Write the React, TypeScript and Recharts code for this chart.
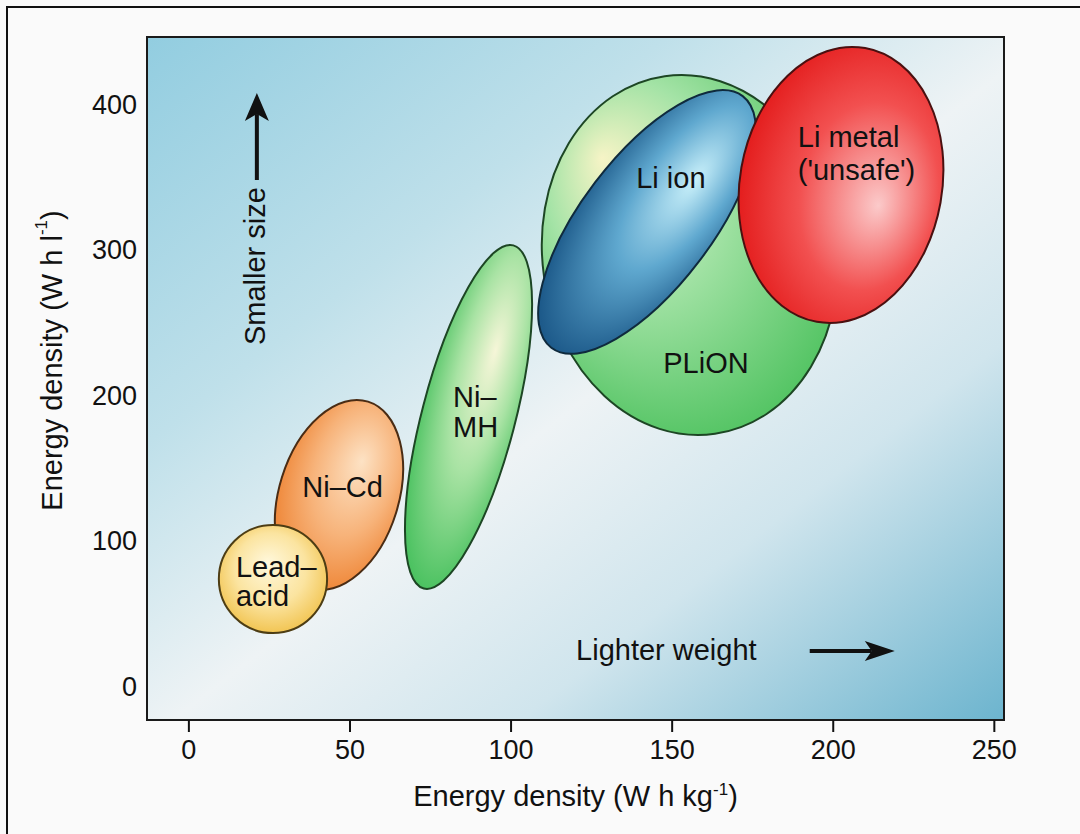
import React from "react";
import { ScatterChart, Scatter, XAxis, YAxis, ReferenceArea } from "recharts";

const FONT = '"Liberation Sans", Arial, Helvetica, sans-serif';

// ---------- data ----------
const xTicks = [0, 50, 100, 150, 200, 250];
const yTicks = [0, 100, 200, 300, 400];
const xDomain: [number, number] = [-13, 253];
const yDomain: [number, number] = [-23, 446];

// each region: centre, end of long semi-axis, end of short semi-axis
// x = gravimetric energy density (W h/kg), y = volumetric energy density (W h/l)
const niCd = [
  { x: 46.6, y: 131.5 },
  { x: 55.6, y: 195.6 },
  { x: 64.3, y: 119.2 },
];
const leadAcid = [
  { x: 26.1, y: 73.8 },
  { x: 26.1, y: 110.9 },
  { x: 42.9, y: 73.8 },
];
const niMH = [
  { x: 86.8, y: 185.1 },
  { x: 100.7, y: 302.9 },
  { x: 100.8, y: 177.0 },
];
const plion = [
  { x: 155.5, y: 296.3 },
  { x: 147.7, y: 419.1 },
  { x: 200.8, y: 310.4 },
];
const liIon = [
  { x: 142.2, y: 319.0 },
  { x: 171.9, y: 405.4 },
  { x: 158.3, y: 291.8 },
];
const liMetal = [
  { x: 202.4, y: 344.4 },
  { x: 209.9, y: 438.4 },
  { x: 233.3, y: 332.3 },
];

const regionLabels = [
  { name: "Lead-acid", lines: ["Lead–", "acid"], x: 14.6, y: 72.4 },
  { name: "Ni-Cd", lines: ["Ni–Cd"], x: 47.7, y: 137.0 },
  { name: "Ni-MH", lines: ["Ni–", "MH"], x: 82.0, y: 188.5 },
  { name: "Li ion", lines: ["Li ion"], x: 149.6, y: 349.2 },
  { name: "Li metal", lines: ["Li metal", "('unsafe')"], x: 189.0, y: 366.0 },
  { name: "PLiON", lines: ["PLiON"], x: 160.5, y: 222.1 },
];

const sizeArrow = [
  { x: 21.1, y: 347.8 },
  { x: 21.1, y: 407.5 },
];
const weightArrow = [
  { x: 192.7, y: 24.4 },
  { x: 219.1, y: 24.4 },
];
const sizeNote = [{ text: "Smaller size", x: 20.5, y: 288.7 }];
const weightNote = [{ text: "Lighter weight", x: 148.2, y: 25.1 }];

// ---------- styles ----------
const LEFT_ALIGNED = new Set(["Lead-acid", "Ni-MH", "Li metal"]);
const LINE_H: Record<string, number> = { "Lead-acid": 29, "Ni-MH": 30, "Li metal": 33 };
const TEXT_COLOR = "#111";

const Nothing = () => <g />;

const makeEllipse = (grad: string, stroke: string) => (props: any) => {
  const pts = props.points;
  if (!pts || pts.length < 3) return <g />;
  const [c, a, b] = pts;
  const ax = a.x - c.x;
  const ay = a.y - c.y;
  const ra = Math.hypot(ax, ay);
  const rb = Math.hypot(b.x - c.x, b.y - c.y);
  const ang = (Math.atan2(ax, -ay) * 180) / Math.PI;
  return (
    <ellipse
      cx={c.x}
      cy={c.y}
      rx={rb}
      ry={ra}
      transform={`rotate(${ang} ${c.x} ${c.y})`}
      fill={`url(#${grad})`}
      stroke={stroke}
      strokeWidth={2}
    />
  );
};

const arrowLine = (head: number, halfW: number) => (props: any) => {
  const pts = props.points;
  if (!pts || pts.length < 2) return <g />;
  const [p0, p1] = pts;
  const dx = p1.x - p0.x;
  const dy = p1.y - p0.y;
  const L = Math.hypot(dx, dy) || 1;
  const ux = dx / L;
  const uy = dy / L;
  const bx = p1.x - ux * head;
  const by = p1.y - uy * head;
  const nx = bx + ux * 7;
  const ny = by + uy * 7;
  return (
    <g>
      <line x1={p0.x} y1={p0.y} x2={nx} y2={ny} stroke="#111" strokeWidth={4} />
      <polygon
        points={`${p1.x},${p1.y} ${bx - uy * halfW},${by + ux * halfW} ${nx},${ny} ${bx + uy * halfW},${by - ux * halfW}`}
        fill="#111"
      />
    </g>
  );
};

const RegionText = (props: any) => {
  const { cx, cy, payload } = props;
  if (cx == null || cy == null || !payload) return <g />;
  const lines: string[] = payload.lines;
  const anchor = LEFT_ALIGNED.has(payload.name) ? "start" : "middle";
  const lh = LINE_H[payload.name] ?? 30;
  const first = cy - ((lines.length - 1) * lh) / 2;
  return (
    <text
      textAnchor={anchor}
      dominantBaseline="central"
      fontFamily={FONT}
      fontSize={29}
      fill={TEXT_COLOR}
    >
      {lines.map((l, i) => (
        <tspan key={i} x={cx} y={first + i * lh}>
          {l}
        </tspan>
      ))}
    </text>
  );
};

const NoteText = (rotate: boolean) => (props: any) => {
  const { cx, cy, payload } = props;
  if (cx == null || cy == null || !payload) return <g />;
  return (
    <text
      x={cx}
      y={cy}
      textAnchor="middle"
      dominantBaseline="central"
      fontFamily={FONT}
      fontSize={29}
      fill={TEXT_COLOR}
      transform={rotate ? `rotate(-90 ${cx} ${cy})` : undefined}
    >
      {payload.text}
    </text>
  );
};

const XTitle = (props: any) => {
  const vb = props.viewBox || { x: 147, y: 720, width: 857, height: 114 };
  const cx = vb.x + vb.width / 2;
  const y = vb.y + 86;
  return (
    <text x={cx} y={y} textAnchor="middle" fontFamily={FONT} fontSize={29} fill={TEXT_COLOR}>
      Energy density (W h kg
      <tspan dy={-11} fontSize={17}>
        -1
      </tspan>
      <tspan dy={11}>)</tspan>
    </text>
  );
};

const YTitle = (props: any) => {
  const vb = props.viewBox || { x: 0, y: 37, width: 147, height: 683 };
  const cx = vb.x + 52;
  const cy = vb.y + vb.height / 2 - 18;
  return (
    <text
      x={cx}
      y={cy}
      textAnchor="middle"
      dominantBaseline="central"
      fontFamily={FONT}
      fontSize={29}
      fill={TEXT_COLOR}
      transform={`rotate(-90 ${cx} ${cy})`}
    >
      Energy density (W h l
      <tspan dy={-11} fontSize={17}>
        -1
      </tspan>
      <tspan dy={11}>)</tspan>
    </text>
  );
};

const Defs = () => (
  <svg width={0} height={0} style={{ position: "absolute" }}>
    <defs>
      <linearGradient id="bg" gradientUnits="userSpaceOnUse" x1={147} y1={37} x2={803} y2={878}>
        <stop offset="0" stopColor="#92cde0" />
        <stop offset="0.3" stopColor="#bfe0ea" />
        <stop offset="0.52" stopColor="#eef3f5" />
        <stop offset="0.72" stopColor="#d0e5ed" />
        <stop offset="1" stopColor="#6cb4ce" />
      </linearGradient>
      <radialGradient id="gLead" cx="0.5" cy="0.45" r="0.6" fx="0.45" fy="0.35">
        <stop offset="0" stopColor="#fff8dc" />
        <stop offset="0.55" stopColor="#fbe4a0" />
        <stop offset="1" stopColor="#f0bf45" />
      </radialGradient>
      <radialGradient id="gNiCd" cx="0.55" cy="0.4" r="0.62" fx="0.6" fy="0.3">
        <stop offset="0" stopColor="#fde2c4" />
        <stop offset="0.55" stopColor="#f7b37a" />
        <stop offset="1" stopColor="#ee8434" />
      </radialGradient>
      <radialGradient id="gNiMH" cx="0.55" cy="0.38" r="0.62" fx="0.6" fy="0.3">
        <stop offset="0" stopColor="#f6f6d8" />
        <stop offset="0.5" stopColor="#a9e3a4" />
        <stop offset="1" stopColor="#4cc261" />
      </radialGradient>
      <radialGradient id="gPlion" cx="0.45" cy="0.4" r="0.65" fx="0.25" fy="0.2">
        <stop offset="0" stopColor="#f6f4c6" />
        <stop offset="0.45" stopColor="#a4e3a6" />
        <stop offset="1" stopColor="#4ec25f" />
      </radialGradient>
      <radialGradient id="gLiIon" cx="0.55" cy="0.38" r="0.62" fx="0.6" fy="0.3">
        <stop offset="0" stopColor="#c9f0fa" />
        <stop offset="0.5" stopColor="#5fa8cf" />
        <stop offset="1" stopColor="#1d5a8a" />
      </radialGradient>
      <radialGradient id="gLiMetal" cx="0.6" cy="0.5" r="0.62" fx="0.7" fy="0.55">
        <stop offset="0" stopColor="#fbcaca" />
        <stop offset="0.55" stopColor="#f25050" />
        <stop offset="1" stopColor="#e31a1a" />
      </radialGradient>
    </defs>
  </svg>
);

export default function App() {
  return (
    <div
      style={{
        position: "relative",
        width: 1080,
        height: 834,
        overflow: "hidden",
        background: "#fafafa",
      }}
    >
      <style>{`body{margin:0;background:#fafafa;}`}</style>
      <Defs />
      <div
        style={{
          position: "absolute",
          left: 6,
          top: 6,
          width: 1200,
          height: 1000,
          border: "2px solid #111",
          boxSizing: "border-box",
        }}
      />
      <div style={{ position: "absolute", left: 0, top: 0 }}>
        <ScatterChart width={1080} height={834} margin={{ top: 37, right: 76, bottom: 0, left: 0 }}>
          <XAxis
            type="number"
            dataKey="x"
            domain={xDomain}
            ticks={xTicks}
            allowDataOverflow
            axisLine={false}
            tickSize={12}
            tickMargin={8}
            tickLine={{ stroke: "#111", strokeWidth: 2 }}
            tick={{ fill: TEXT_COLOR, fontSize: 27, fontFamily: FONT }}
            height={114}
            label={{ content: XTitle }}
          />
          <YAxis
            type="number"
            dataKey="y"
            domain={yDomain}
            ticks={yTicks}
            allowDataOverflow
            axisLine={false}
            tickLine={false}
            tickSize={0}
            tickMargin={10}
            tick={{ fill: TEXT_COLOR, fontSize: 27, fontFamily: FONT }}
            width={147}
            label={{ content: YTitle }}
          />
          <ReferenceArea
            x1={xDomain[0]}
            x2={xDomain[1]}
            y1={yDomain[0]}
            y2={yDomain[1]}
            fill="url(#bg)"
            fillOpacity={1}
            stroke="#1a1a1a"
            strokeWidth={2}
            ifOverflow="visible"
          />
          <Scatter data={niCd} isAnimationActive={false} shape={Nothing} line={makeEllipse("gNiCd", "#4a2c14")} lineType="joint" legendType="none" />
          <Scatter data={leadAcid} isAnimationActive={false} shape={Nothing} line={makeEllipse("gLead", "#4d3d14")} lineType="joint" legendType="none" />
          <Scatter data={niMH} isAnimationActive={false} shape={Nothing} line={makeEllipse("gNiMH", "#1d4624")} lineType="joint" legendType="none" />
          <Scatter data={plion} isAnimationActive={false} shape={Nothing} line={makeEllipse("gPlion", "#1d4624")} lineType="joint" legendType="none" />
          <Scatter data={liIon} isAnimationActive={false} shape={Nothing} line={makeEllipse("gLiIon", "#0f2a3d")} lineType="joint" legendType="none" />
          <Scatter data={liMetal} isAnimationActive={false} shape={Nothing} line={makeEllipse("gLiMetal", "#4a1010")} lineType="joint" legendType="none" />
          <Scatter data={regionLabels} isAnimationActive={false} shape={RegionText} legendType="none" />
          <Scatter data={sizeArrow} isAnimationActive={false} shape={Nothing} line={arrowLine(28, 12)} lineType="joint" legendType="none" />
          <Scatter data={weightArrow} isAnimationActive={false} shape={Nothing} line={arrowLine(30, 10)} lineType="joint" legendType="none" />
          <Scatter data={sizeNote} isAnimationActive={false} shape={NoteText(true)} legendType="none" />
          <Scatter data={weightNote} isAnimationActive={false} shape={NoteText(false)} legendType="none" />
        </ScatterChart>
      </div>
    </div>
  );
}
